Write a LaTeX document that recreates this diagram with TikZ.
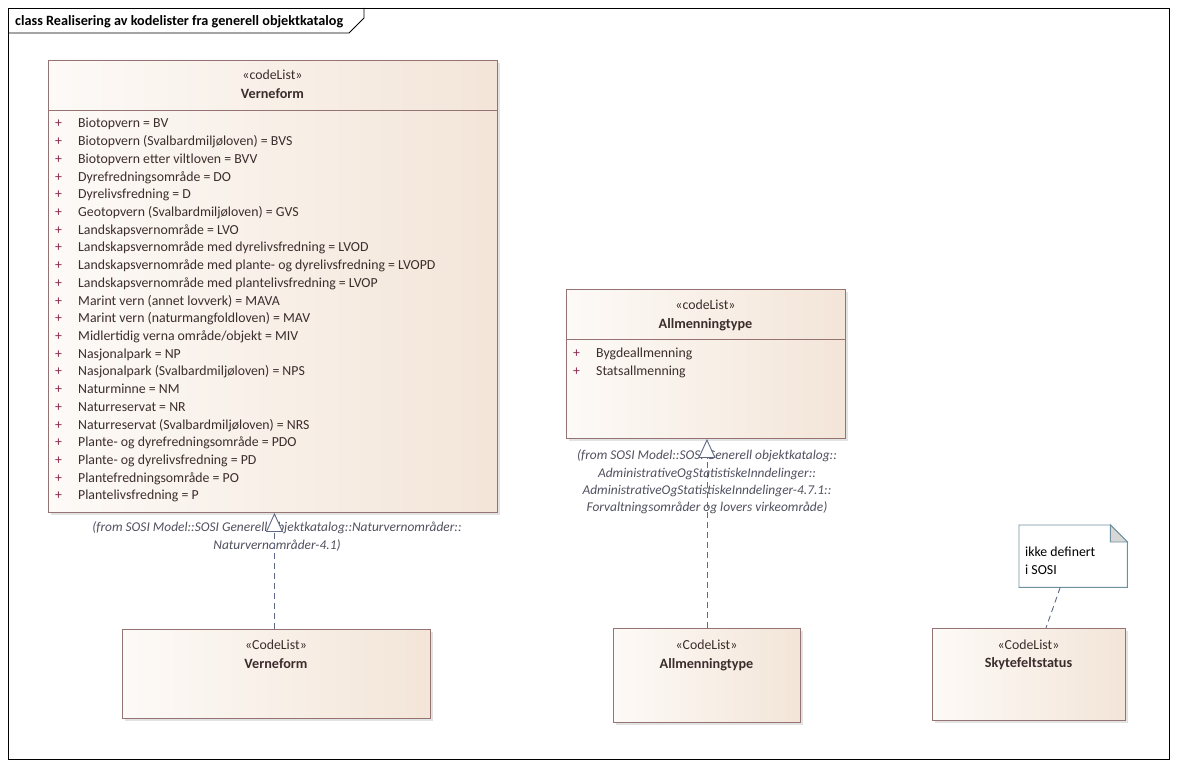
\documentclass[tikz,border=0pt]{standalone}
\usepackage{fontspec}
\setmainfont{Carlito}
\usetikzlibrary{arrows.meta,shadows}

\definecolor{boxline}{RGB}{150,115,115}
\definecolor{fillL}{RGB}{253,250,247}
\definecolor{fillR}{RGB}{243,229,216}
\definecolor{textcol}{RGB}{60,45,45}
\definecolor{pluscol}{RGB}{140,40,80}
\definecolor{fromcol}{RGB}{80,80,95}
\definecolor{conn}{RGB}{95,105,135}
\definecolor{noteline}{RGB}{110,145,160}
\definecolor{fold}{RGB}{215,215,215}

\tikzset{
  codebox/.style={draw=boxline,line width=0.9pt,left color=fillL,right color=fillR,
    drop shadow={shadow xshift=3pt,shadow yshift=-3pt,fill=black!22},
    anchor=north west,inner sep=0pt},
  stereo/.style={anchor=base,inner sep=0pt,text=textcol,font=\fontsize{13.8}{16}\selectfont},
  cname/.style={anchor=base,inner sep=0pt,text=textcol,font=\fontsize{14.2}{16}\selectfont\bfseries},
  vis/.style={anchor=base west,inner sep=0pt,text=pluscol,font=\fontsize{13.8}{16}\selectfont},
  attr/.style={anchor=base west,inner sep=0pt,text=textcol,font=\fontsize{13.8}{16}\selectfont},
  fromlbl/.style={anchor=base,inner sep=0pt,text=fromcol,font=\fontsize{13.4}{16}\selectfont\itshape},
  realize/.style={draw=conn,line width=0.9pt,dash pattern=on 6pt off 4pt,
    -{Triangle[fill=white,length=19pt,width=17pt]}},
}

\begin{document}
\begin{tikzpicture}[x=1pt,y=-1pt]
	\useasboundingbox (0,0) rectangle (1178,767);
	% frame
	\draw[line width=0.9pt] (8,8) rectangle (1169,759);
	\draw[line width=0.9pt] (8,33) -- (349,33) -- (364,18) -- (364,8);
	\path (15,25.5) node[anchor=base west,inner sep=0pt,font=\fontsize{14.2}{16}\selectfont\bfseries] (title) {class Realisering av kodelister fra generell objektkatalog};

	% Verneform (katalog)
	\node[codebox,minimum width=449pt,minimum height=452pt] (vfCat) at (48,60) {};
	\draw[boxline,line width=0.9pt] (48,110) -- (497,110);
	\path (272.5,79.5) node[stereo] (vfCatS) {«codeList»};
	\path (272.5,98.5) node[cname]  (vfCatN) {Verneform};
	\foreach \attr [count=\i from 0] in {
		{Biotopvern = BV},
		{Biotopvern (Svalbardmiljøloven) = BVS},
		{Biotopvern etter viltloven = BVV},
		{Dyrefredningsområde = DO},
		{Dyrelivsfredning = D},
		{Geotopvern (Svalbardmiljøloven) = GVS},
		{Landskapsvernområde = LVO},
		{Landskapsvernområde med dyrelivsfredning = LVOD},
		{Landskapsvernområde med plante- og dyrelivsfredning = LVOPD},
		{Landskapsvernområde med plantelivsfredning = LVOP},
		{Marint vern (annet lovverk) = MAVA},
		{Marint vern (naturmangfoldloven) = MAV},
		{Midlertidig verna område/objekt = MIV},
		{Nasjonalpark = NP},
		{Nasjonalpark (Svalbardmiljøloven) = NPS},
		{Naturminne = NM},
		{Naturreservat = NR},
		{Naturreservat (Svalbardmiljøloven) = NRS},
		{Plante- og dyrefredningsområde = PDO},
		{Plante- og dyrelivsfredning = PD},
		{Plantefredningsområde = PO},
		{Plantelivsfredning = P}}
	{
		\path (55,{128+17.71*\i}) node[vis] (vfV\i) {+};
		\path (78,{128+17.71*\i}) node[attr] (vfA\i) {\attr};
	}
	\path (277,531.5) node[fromlbl] (vfFrom1) {(from SOSI Model::SOSI Generell objektkatalog::Naturvernområder::};
	\path (277,549.5) node[fromlbl] (vfFrom2) {Naturvernområder-4.1)};

	% Allmenningtype (katalog)
	\node[codebox,minimum width=279pt,minimum height=149pt] (amCat) at (566,289) {};
	\draw[boxline,line width=0.9pt] (566,339) -- (845,339);
	\path (705.5,309.5) node[stereo] (amCatS) {«codeList»};
	\path (705.5,328.5) node[cname]  (amCatN) {Allmenningtype};
	\path (573,357) node[vis] (amV0) {+};
	\path (596,357) node[attr] (amA0) {Bygdeallmenning};
	\path (573,375) node[vis] (amV1) {+};
	\path (596,375) node[attr] (amA1) {Statsallmenning};
	\path (707,459.5) node[fromlbl] (amFrom1) {(from SOSI Model::SOSI Generell objektkatalog::};
	\path (707,477.5) node[fromlbl] (amFrom2) {AdministrativeOgStatistiskeInndelinger::};
	\path (707,494.5) node[fromlbl] (amFrom3) {AdministrativeOgStatistiskeInndelinger-4.7.1::};
	\path (707,511.5) node[fromlbl] (amFrom4) {Forvaltningsområder og lovers virkeområde)};

	% realiseringer
	\node[codebox,minimum width=308pt,minimum height=89pt] (vfReal) at (122,629) {};
	\path (276,649.5) node[stereo] (vfRealS) {«CodeList»};
	\path (276,668) node[cname]  (vfRealN) {Verneform};

	\node[codebox,minimum width=187pt,minimum height=94pt] (amReal) at (613,628) {};
	\path (706.5,649.5) node[stereo] (amRealS) {«CodeList»};
	\path (706.5,668) node[cname]  (amRealN) {Allmenningtype};

	\node[codebox,minimum width=193pt,minimum height=92pt] (skyt) at (932,628) {};
	\path (1028.5,649.5) node[stereo] (skytS) {«CodeList»};
	\path (1028.5,667.5) node[cname]  (skytN) {Skytefeltstatus};

	\draw[realize] ([xshift=-2pt]vfReal.north) -- ([xshift=-2pt]vfReal.north |- vfCat.south);
	\draw[realize] (amReal.north) -- (amReal.north |- amCat.south);

	% note
	\node[minimum width=108pt,minimum height=62pt,inner sep=0pt,anchor=north west] (note) at (1019,525) {};
	\draw[noteline,line width=0.9pt,fill=white] (note.north west) -- ([xshift=-17pt]note.north east)
		-- ([yshift=-17pt]note.north east) -- (note.south east) -- (note.south west) -- cycle;
	\draw[noteline,line width=0.9pt,fill=fold] ([xshift=-17pt]note.north east) -- ([xshift=-17pt,yshift=-17pt]note.north east)
		-- ([yshift=-17pt]note.north east) -- cycle;
	\path (1025,556.5) node[attr,text=black] (noteT1) {ikke definert};
	\path (1025,574.5) node[attr,text=black] (noteT2) {i SOSI};
	\draw[conn,line width=0.9pt,dash pattern=on 6pt off 4pt] ([xshift=-13pt]note.south) -- ([xshift=17pt]skyt.north);
\end{tikzpicture}
\end{document}
